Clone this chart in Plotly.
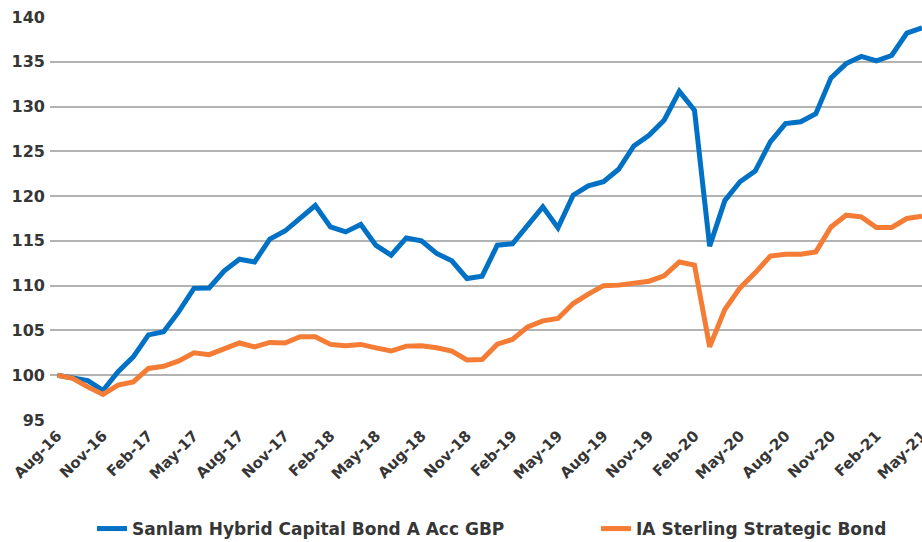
import plotly.graph_objects as go

months = [
    "Aug-16", "Sep-16", "Oct-16", "Nov-16", "Dec-16",
    "Jan-17", "Feb-17", "Mar-17", "Apr-17", "May-17", "Jun-17", "Jul-17",
    "Aug-17", "Sep-17", "Oct-17", "Nov-17", "Dec-17",
    "Jan-18", "Feb-18", "Mar-18", "Apr-18", "May-18", "Jun-18", "Jul-18",
    "Aug-18", "Sep-18", "Oct-18", "Nov-18", "Dec-18",
    "Jan-19", "Feb-19", "Mar-19", "Apr-19", "May-19", "Jun-19", "Jul-19",
    "Aug-19", "Sep-19", "Oct-19", "Nov-19", "Dec-19",
    "Jan-20", "Feb-20", "Mar-20", "Apr-20", "May-20", "Jun-20", "Jul-20",
    "Aug-20", "Sep-20", "Oct-20", "Nov-20", "Dec-20",
    "Jan-21", "Feb-21", "Mar-21", "Apr-21", "May-21",
]

sanlam = [
    100.0, 99.7, 99.4, 98.3, 100.4, 102.05, 104.5, 104.85, 107.1, 109.7,
    109.75, 111.65, 112.95, 112.65, 115.2, 116.1, 117.5, 118.95,
    116.56, 116.0, 116.83, 114.5, 113.4, 115.33, 115.0, 113.6, 112.77, 110.8,
    111.06, 114.52, 114.67, 116.75, 118.8, 116.45, 120.1, 121.14, 121.6, 123.0,
    125.6, 126.8, 128.47, 131.7, 129.6, 114.4, 119.5, 121.6, 122.8, 126.05,
    128.1, 128.3, 129.2, 133.2, 134.8, 135.6, 135.1, 135.7, 138.2, 138.8,
]

ia_sector = [
    100.0, 99.65, 98.7, 97.85, 98.9, 99.26, 100.76, 101.0, 101.6, 102.5,
    102.3, 102.97, 103.6, 103.17, 103.66, 103.6, 104.3, 104.3,
    103.44, 103.3, 103.44, 103.06, 102.7, 103.25, 103.3, 103.06, 102.7, 101.7,
    101.76, 103.47, 104.0, 105.4, 106.07, 106.34, 108.0, 109.05, 110.0, 110.06,
    110.25, 110.5, 111.1, 112.65, 112.3, 103.17, 107.34, 109.75, 111.43, 113.3,
    113.5, 113.5, 113.77, 116.56, 117.87, 117.68, 116.5, 116.5, 117.5, 117.76,
]

series_names = ["Sanlam Hybrid Capital Bond A Acc GBP", "IA Sterling Strategic Bond"]
tick_labels = months[::3]
y_ticks = [95, 100, 105, 110, 115, 120, 125, 130, 135, 140]

BLUE = "#0071C5"
ORANGE = "#F47C35"
TEXT = "#363636"
FONT = "DejaVu Sans"

fig = go.Figure()
fig.add_trace(go.Scatter(x=months, y=sanlam, mode="lines", name=series_names[0],
                         line=dict(color=BLUE, width=5), legend="legend"))
fig.add_trace(go.Scatter(x=months, y=ia_sector, mode="lines", name=series_names[1],
                         line=dict(color=ORANGE, width=5), legend="legend2"))

legend_style = dict(
    orientation="h", xref="container", yref="container", xanchor="left",
    y=1 - 529 / 542, yanchor="middle", itemwidth=30, bgcolor="rgba(0,0,0,0)",
    font=dict(family=FONT, size=17, color=TEXT, weight="bold"),
)

fig.update_layout(
    width=922, height=542,
    margin=dict(l=50, r=0, t=17, b=122, autoexpand=False),
    paper_bgcolor="white", plot_bgcolor="white",
    font=dict(family=FONT, color=TEXT),
    showlegend=True,
    legend=dict(x=92 / 922, **legend_style),
    legend2=dict(x=596 / 922, **legend_style),
)
fig.update_xaxes(
    type="category", range=[-0.49, 57.0], automargin=False,
    tickmode="array", tickvals=tick_labels, ticktext=tick_labels,
    tickangle=-45, showgrid=False, zeroline=False, showline=False, ticks="",
    ticklabelstandoff=3,
    tickfont=dict(family=FONT, size=15, color=TEXT, weight="bold"),
)
fig.update_yaxes(
    range=[95, 140], tickmode="array", tickvals=y_ticks, automargin=False,
    showgrid=True, gridcolor="#B3B3B3", gridwidth=2,
    zeroline=False, showline=False, ticks="", ticklabelstandoff=4,
    tickfont=dict(family=FONT, size=16, color=TEXT, weight="bold"),
)

fig.write_html(
    "out.html",
    config={"displayModeBar": False},
    post_script="document.body.style.margin='0';document.body.style.padding='0';",
)
